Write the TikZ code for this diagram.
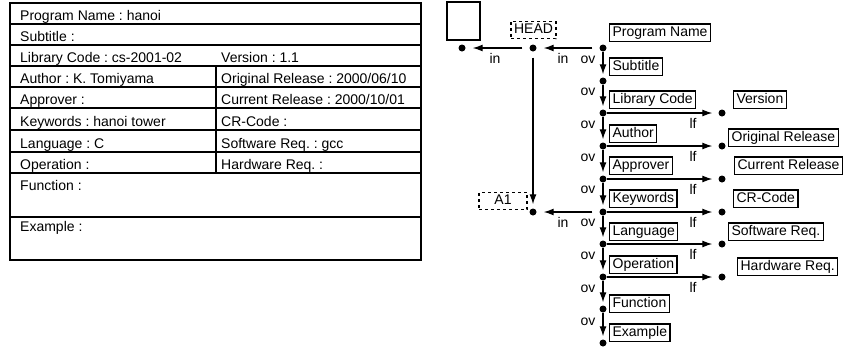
\documentclass[tikz,border=0pt]{standalone}
\usepackage{fontspec}
\setmainfont{Liberation Sans}
\usetikzlibrary{arrows.meta}
\frenchspacing
\newcommand\fsz{\fontsize{14pt}{16pt}\selectfont\frenchspacing}
\tikzset{
  dot/.style={circle,fill,inner sep=0pt,minimum size=7pt},
  lbl/.style={draw,line width=1.2pt,inner xsep=3pt,inner ysep=2pt,text height=10.5pt,text depth=3pt,anchor=south west,font=\fsz},
  dlbl/.style={draw,dashed,line width=1.2pt,inner xsep=3pt,inner ysep=2pt,text height=10.5pt,text depth=3pt,font=\fsz},
  ttxt/.style={anchor=base west,inner sep=0pt,font=\fsz},
  tag/.style={inner sep=0pt,font=\fsz},
  arr/.style={-{Latex[length=10pt,width=7pt]},line width=1.2pt},
  thinline/.style={line width=1.2pt},
  midline/.style={line width=2pt},
}
\begin{document}
\begin{tikzpicture}[x=1pt,y=-1pt]
\useasboundingbox (0,0) rectangle (843,349);
% ---------- table ----------
\draw[line width=2.5pt] (10,3) rectangle (421,260);
\foreach \yy in {24,45,66,87,130,152,173}{\draw[thinline] (10,\yy) -- (421,\yy);}
\foreach \yy in {108,217}{\draw[midline] (10,\yy) -- (421,\yy);}
\draw[thinline] (216,66) -- (216,173);
\node[ttxt] (tprog) at (20,20) {Program Name : hanoi};
\node[ttxt] (tsub) at (20,41) {Subtitle :};
\node[ttxt] (tlib) at (20,62) {Library Code : cs-2001-02};
\node[ttxt] (tver) at (221,62) {Version : 1.1};
\node[ttxt] (tauth) at (20,83) {Author : K. Tomiyama};
\node[ttxt] (torig) at (221,83) {Original Release : 2000/06/10};
\node[ttxt] (tappr) at (20,104) {Approver :};
\node[ttxt] (tcur) at (221,104) {Current Release : 2000/10/01};
\node[ttxt] (tkey) at (20,126) {Keywords : hanoi tower};
\node[ttxt] (tcr) at (221,126) {CR-Code :};
\node[ttxt] (tlang) at (20,148) {Language : C};
\node[ttxt] (tsoft) at (221,148) {Software Req. : gcc};
\node[ttxt] (top) at (20,169) {Operation :};
\node[ttxt] (thard) at (221,169) {Hardware Req. :};
\node[ttxt] (tfun) at (20,190) {Function :};
\node[ttxt] (tex) at (20,231) {Example :};
% ---------- right diagram ----------
\node[draw,line width=1.2pt,minimum width=33pt,minimum height=38pt,inner sep=0pt] (empty) at (463.5,21) {};
\node[dlbl] (headbox) at (533.5,30) {HEAD};
\node[dlbl,minimum width=48pt] (a1box) at (503,201) {A1};
\node[dot] (l) at (462,48) {};
\node[dot] (h) at (533,48) {};
\node[dot] (a) at (533,212) {};
\node[dot] (d0) at (603,48) {};
\node[dot] (d1) at (603,81) {};
\node[dot] (d2) at (603,113) {};
\node[dot] (d3) at (603,146) {};
\node[dot] (d4) at (603,179) {};
\node[dot] (d5) at (603,212) {};
\node[dot] (d6) at (603,244) {};
\node[dot] (d7) at (603,277) {};
\node[dot] (d8) at (603,309) {};
\node[dot] (d9) at (603,343) {};
\node[dot] (r2) at (722,113) {};
\node[dot] (r3) at (722,146) {};
\node[dot] (r4) at (722,179) {};
\node[dot] (r5) at (722,212) {};
\node[dot] (r6) at (722,244) {};
\node[dot] (r7) at (722,277) {};
% left boxes
\node[lbl] (bprog) at (609,42) {Program Name};
\node[lbl] (bsub) at (609,76) {Subtitle};
\node[lbl] (blib) at (609,109) {Library Code};
\node[lbl] (bauth) at (609,143) {Author};
\node[lbl] (bappr) at (609,175) {Approver};
\node[lbl] (bkey) at (609,208) {Keywords};
\node[lbl] (blang) at (609,241) {Language};
\node[lbl] (bop) at (609,274) {Operation};
\node[lbl] (bfun) at (609,313) {Function};
\node[lbl] (bex) at (609,342) {Example};
% right boxes
\node[lbl] (bver) at (733,109) {Version};
\node[lbl] (borig) at (728,147) {Original Release};
\node[lbl] (bcur) at (734,175) {Current Release};
\node[lbl] (bcr) at (733,208) {CR-Code};
\node[lbl] (bsoft) at (728,241) {Software Req.};
\node[lbl] (bhard) at (737,276) {Hardware Req.};
% in arrows
\draw[arr,shorten <=7pt,shorten >=7pt] (d0) -- (h);
\draw[arr,shorten <=7pt,shorten >=7pt] (h) -- (l);
\draw[arr,shorten <=7pt,shorten >=7pt] (d5) -- (a);
\draw[arr,shorten <=6pt,shorten >=4pt] (h) -- (a);
\node[tag] (in1) at (495,58) {in};
\node[tag] (in2) at (563,58) {in};
\node[tag] (in3) at (563,222) {in};
% ov arrows
\foreach \i/\j/\yy in {d0/d1/60,d1/d2/92,d2/d3/125,d3/d4/158,d4/d5/190,d5/d6/223,d6/d7/256,d7/d8/289,d8/d9/322}{
  \draw[arr,shorten >=3pt] (\i) -- (\j);
  \node[tag] (ov\i) at (588,\yy) {ov};
}
% lf arrows
\foreach \i/\j/\yy in {d2/r2/123,d3/r3/156,d4/r4/189,d5/r5/222,d6/r6/254,d7/r7/287}{
  \draw[arr,shorten >=6pt] (\i) -- (\j);
  \node[tag] (lf\i) at (693,\yy) {lf};
}
\end{tikzpicture}
\end{document}
